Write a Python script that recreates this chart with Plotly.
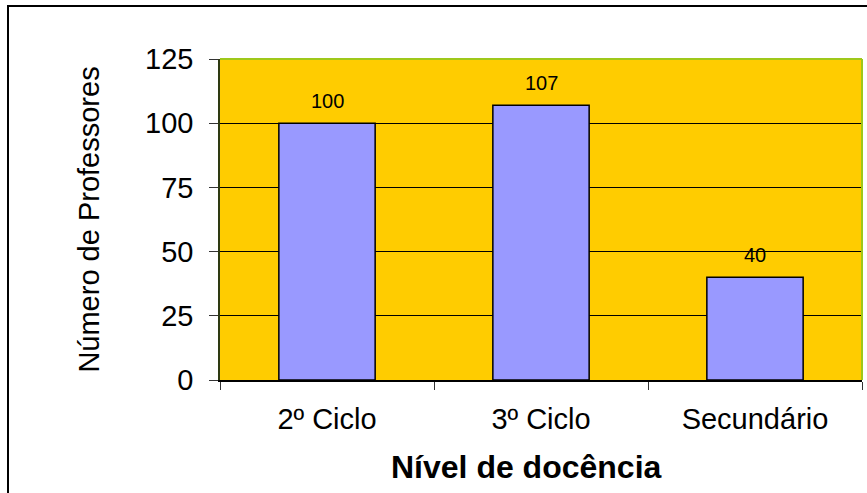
import plotly.graph_objects as go

categories = ["2º Ciclo", "3º Ciclo", "Secundário"]
values = [100, 107, 40]
y_ticks = [0, 25, 50, 75, 100, 125]

FONT = "Liberation Sans, Arial, sans-serif"

fig = go.Figure()
fig.add_trace(go.Bar(
    x=categories, y=values,
    marker=dict(color="#9999FF", line=dict(color="black", width=1.5)),
    width=0.45,
    text=[str(v) for v in values],
    textposition="none",
    hoverinfo="skip",
))

for c, v in zip(categories, values):
    fig.add_annotation(x=c, y=v, text=str(v), showarrow=False,
                       yanchor="bottom", yshift=9,
                       font=dict(family=FONT, size=20, color="black"))

W, H = 867, 493
L, R, T, B = 220, 5, 59, 113
pw = W - L - R
ph = H - T - B

def px_x(p):
    return (p - L) / pw

def px_y(p):
    return (H - B - p) / ph

# x-axis title (slightly left of plot centre, as in the original)
fig.add_annotation(xref="paper", yref="paper", x=px_x(526), y=px_y(467),
                   text="<b>Nível de docência</b>", showarrow=False,
                   xanchor="center", yanchor="middle",
                   font=dict(family=FONT, size=32, color="black"))

# outer chart border (partially cut at right/bottom)
fig.add_shape(type="rect", xref="paper", yref="paper",
              x0=px_x(8), x1=px_x(880), y0=px_y(510), y1=px_y(6),
              line=dict(color="black", width=2), fillcolor="rgba(0,0,0,0)", layer="above")
# plot area top/right border
fig.add_shape(type="line", xref="paper", yref="paper", x0=0, x1=1, y0=1, y1=1,
              line=dict(color="#9FC81A", width=2), layer="above")
fig.add_shape(type="line", xref="paper", yref="paper", x0=1, x1=1, y0=0, y1=1,
              line=dict(color="#9FC81A", width=2), layer="above")

fig.update_layout(
    width=W, height=H,
    margin=dict(l=L, r=R, t=T, b=B),
    paper_bgcolor="white",
    plot_bgcolor="#FFCC00",
    showlegend=False,
    bargap=0.55,
    font=dict(family=FONT, color="black"),
    xaxis=dict(
        type="category",
        tickson="boundaries",
        ticks="outside", ticklen=8, tickcolor="#333333", tickwidth=1,
        showline=True, linecolor="black", linewidth=1.5,
        showgrid=False,
        tickfont=dict(family=FONT, size=29, color="black"),
        ticklabelstandoff=12,
    ),
    yaxis=dict(
        range=[0, 125],
        tickvals=y_ticks,
        ticks="outside", ticklen=9, tickcolor="#333333", tickwidth=1,
        showline=True, linecolor="#2E3A12", linewidth=1.5,
        showgrid=True, gridcolor="black", gridwidth=1,
        zeroline=False,
        tickfont=dict(family=FONT, size=29, color="black"),
        ticklabelstandoff=10,
        title=dict(text="Número de Professores", standoff=37,
                   font=dict(family=FONT, size=29, color="black")),
    ),
)

fig.write_html("out.html",
               config={"displayModeBar": False},
               post_script="document.body.style.margin='0';document.body.style.overflow='hidden';")
